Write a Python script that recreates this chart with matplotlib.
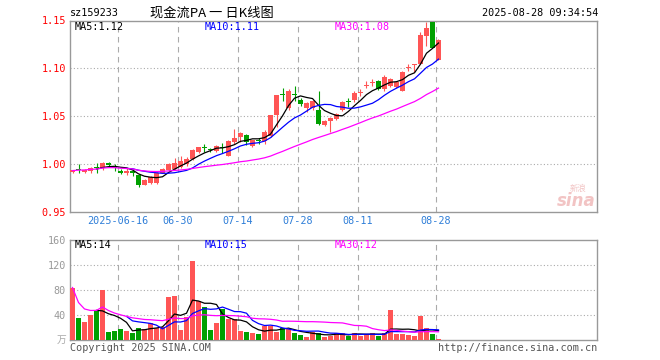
import numpy as np
import pandas as pd
import matplotlib
matplotlib.use('Agg')
import matplotlib.pyplot as plt

# 日K数据 (2025-06-04 .. 2025-08-28)
opens = [0.992, 0.995, 0.992, 0.993, 0.997, 0.996, 1.001, 0.997, 0.993, 0.991,
         0.993, 0.9885, 0.978, 0.980, 0.980, 0.9905, 0.994, 0.995, 0.997, 1.000,
         1.0052, 1.0125, 1.0175, 1.016, 1.0131, 1.018, 1.0086, 1.0233, 1.0282, 1.0306,
         1.0191, 1.0245, 1.0236, 1.029, 1.0508, 1.0725, 1.058, 1.0735, 1.0673, 1.0586,
         1.058, 1.056, 1.0411, 1.0446, 1.047, 1.056, 1.066, 1.0664, 1.0745, 1.0815,
         1.0845, 1.0864, 1.0788, 1.0812, 1.0802, 1.0767, 1.1005, 1.1035, 1.105, 1.1336,
         1.1486, 1.109]
highs = [0.994, 1.000, 0.995, 0.997, 1.001, 1.002, 1.002, 1.000, 0.995, 0.996,
         0.995, 0.989, 0.9845, 0.987, 0.992, 0.996, 1.001, 1.006, 1.008, 1.007,
         1.016, 1.018, 1.021, 1.017, 1.020, 1.022, 1.025, 1.036, 1.033, 1.031,
         1.0255, 1.027, 1.035, 1.051, 1.0725, 1.079, 1.078, 1.081, 1.069, 1.0645,
         1.067, 1.076, 1.046, 1.049, 1.053, 1.066, 1.069, 1.076, 1.078, 1.087,
         1.089, 1.088, 1.0934, 1.090, 1.087, 1.097, 1.104, 1.1045, 1.1375, 1.1486,
         1.1486, 1.131]
lows = [0.990, 0.990, 0.990, 0.991, 0.991, 0.994, 0.997, 0.993, 0.989, 0.988,
        0.987, 0.976, 0.978, 0.979, 0.979, 0.990, 0.993, 0.994, 0.996, 0.998,
        1.004, 1.011, 1.012, 1.012, 1.012, 1.011, 1.008, 1.021, 1.023, 1.020,
        1.018, 1.021, 1.021, 1.028, 1.039, 1.066, 1.056, 1.066, 1.061, 1.054,
        1.056, 1.041, 1.040, 1.033, 1.046, 1.055, 1.060, 1.065, 1.071, 1.079,
        1.081, 1.077, 1.0767, 1.080, 1.079, 1.076, 1.097, 1.0965, 1.104, 1.123,
        1.121, 1.109]
closes = [0.993, 0.994, 0.994, 0.996, 0.996, 1.001, 0.9985, 0.996, 0.991, 0.993,
          0.990, 0.978, 0.9835, 0.986, 0.9905, 0.9947, 1.000, 1.001, 1.003, 1.0055,
          1.0149, 1.0173, 1.0167, 1.015, 1.0184, 1.0165, 1.0236, 1.0272, 1.0324, 1.0233,
          1.0247, 1.0235, 1.0334, 1.0508, 1.0718, 1.0718, 1.0767, 1.0725, 1.0628, 1.0638,
          1.066, 1.0418, 1.0446, 1.0484, 1.052, 1.0649, 1.065, 1.0745, 1.0755, 1.0825,
          1.0855, 1.0788, 1.091, 1.0893, 1.0854, 1.0963, 1.1015, 1.104, 1.1346, 1.1424,
          1.1214, 1.130]
volumes = [84, 36, 29, 40, 48, 80, 13, 15, 18, 15,
           12, 20, 17, 27, 20, 21, 69, 71, 16, 37,
           126, 62, 53, 16, 27, 50, 34, 34, 14, 13,
           11, 10, 23, 22, 13, 20, 17, 11, 8, 5,
           13, 11, 5, 7, 11, 11, 7, 12, 7, 9,
           12, 7, 11, 48, 10, 10, 8, 6, 38, 19,
           10, 2]

tick_idx = [8, 18, 28, 38, 48, 61]
tick_labels = ['2025-06-16', '06-30', '07-14', '07-28', '08-11', '08-28']
price_ticks = [0.95, 1.00, 1.05, 1.10, 1.15]
price_tick_labels = ['0.95', '1.00', '1.05', '1.10', '1.15']
vol_ticks = [40, 80, 120, 160]
ma_price_text = ['MA5:1.12', 'MA10:1.11', 'MA30:1.08']
ma_vol_text = ['MA5:14', 'MA10:15', 'MA30:12']

RED = '#ff5555'
GREEN = '#00a000'
GRID = '#aaaaaa'
MONO = 'DejaVu Sans Mono'
FS = 7.3

df = pd.DataFrame({'o': opens, 'h': highs, 'l': lows, 'c': closes, 'v': volumes})
x = np.arange(len(df))
up = df['c'] >= df['o']
colors = np.where(up, RED, GREEN)

ma_cols = ['black', '#0000ff', '#ff00ff']
p_ma = [df['c'].rolling(5).mean(), df['c'].rolling(10).mean(), df['c'].rolling(30, min_periods=1).mean()]
v_ma = [df['v'].rolling(5).mean(), df['v'].rolling(10).mean(), df['v'].rolling(30, min_periods=1).mean()]

fig = plt.figure(figsize=(6.6, 3.6), dpi=100)
ax = fig.add_axes([70 / 660, (360 - 211.7) / 360, 527 / 660, 191.2 / 360])
axv = fig.add_axes([70 / 660, 20 / 360, 527 / 660, 100 / 360])

xmin, xmax = -2.5 / 6, (597 - 72.5) / 6
w = 5 / 6

# K线
ax.vlines(x, df['l'], df['h'], colors=colors, linewidth=0.8, zorder=3)
body_h = np.maximum((df['c'] - df['o']).abs(), 0.0011)
ax.bar(x, body_h, bottom=np.minimum(df['o'], df['c']), width=w, color=colors, linewidth=0, zorder=3)
for s, c in zip(p_ma, ma_cols):
    ax.plot(x, s, color=c, linewidth=0.9, zorder=4)

ax.set_xlim(xmin, xmax)
ax.set_ylim(0.95, 1.15)
for yv in [1.00, 1.05, 1.10]:
    ax.axhline(yv, color=GRID, linestyle=(0, (1, 2)), linewidth=0.8, zorder=1)
for i in tick_idx:
    ax.axvline(i - 2.5 / 6, color=GRID, linestyle=(0, (5, 4)), linewidth=0.8, zorder=1)
ax.set_yticks(price_ticks)
ax.set_yticklabels(price_tick_labels, fontfamily=MONO, fontsize=FS)
for lab in ax.get_yticklabels():
    lab.set_color('red')
ax.set_xticks([i - 2.5 / 6 for i in tick_idx])
ax.set_xticklabels(tick_labels, fontfamily=MONO, fontsize=FS, color='#2f7ed8')
ax.tick_params(length=0, pad=3)

# 成交量
axv.bar(x, df['v'], width=w, color=colors, linewidth=0, zorder=3)
for s, c in zip(v_ma, ma_cols):
    axv.plot(x, s, color=c, linewidth=0.9, zorder=4)
axv.set_xlim(xmin, xmax)
axv.set_ylim(0, 160)
for yv in [40, 80, 120]:
    axv.axhline(yv, color=GRID, linestyle=(0, (1, 2)), linewidth=0.8, zorder=1)
for i in tick_idx:
    axv.axvline(i - 2.5 / 6, color=GRID, linestyle=(0, (5, 4)), linewidth=0.8, zorder=1)
axv.set_yticks(vol_ticks)
axv.set_yticklabels([str(v) for v in vol_ticks], fontfamily=MONO, fontsize=FS, color='#999999')
axv.set_xticks([])
axv.tick_params(length=0, pad=3)

for a in (ax, axv):
    for sp in a.spines.values():
        sp.set_color('#999999')
        sp.set_linewidth(1)

# MA文字
for t, c, xp in zip(ma_price_text, ma_cols, [75, 205, 335]):
    fig.text(xp / 660, 1 - 27 / 360, t, color=c, fontfamily=MONO, fontsize=FS, va='center')
for t, c, xp in zip(ma_vol_text, ma_cols, [75, 205, 335]):
    fig.text(xp / 660, 1 - 245 / 360, t, color=c, fontfamily=MONO, fontsize=FS, va='center')

# 标题
fig.text(70 / 660, 1 - 13 / 360, 'sz159233', fontfamily=MONO, fontsize=FS, va='center')
fig.text(150 / 660, 1 - 13 / 360, '现金流PA 一 日K线图', fontfamily=['Noto Sans CJK SC', 'DejaVu Sans'],
         fontsize=9.5, va='center')
fig.text(598 / 660, 1 - 13 / 360, '2025-08-28 09:34:54', fontfamily=MONO, fontsize=FS, va='center', ha='right')

fig.text(66 / 660, 1 - 340 / 360, '万', fontfamily=['Noto Sans CJK SC', 'DejaVu Sans'], fontsize=7,
         color='#aaaaaa', va='center', ha='right')
fig.text(70 / 660, 1 - 348 / 360, 'Copyright 2025 SINA.COM', fontfamily=MONO, fontsize=FS,
         color='#555555', va='center')
fig.text(597 / 660, 1 - 348 / 360, 'http://finance.sina.com.cn', fontfamily=MONO, fontsize=FS,
         color='#555555', va='center', ha='right')

# 水印
fig.text(596 / 660, 1 - 201 / 360, 'sina', fontsize=12, fontweight='bold', style='italic',
         color='#f2c4c4', ha='right', va='center')
fig.text(578 / 660, 1 - 188 / 360, '新浪', fontfamily=['Noto Sans CJK SC'], fontsize=6,
         color='#f2c4c4', ha='center', va='center')

fig.savefig('out.png', dpi=100)
